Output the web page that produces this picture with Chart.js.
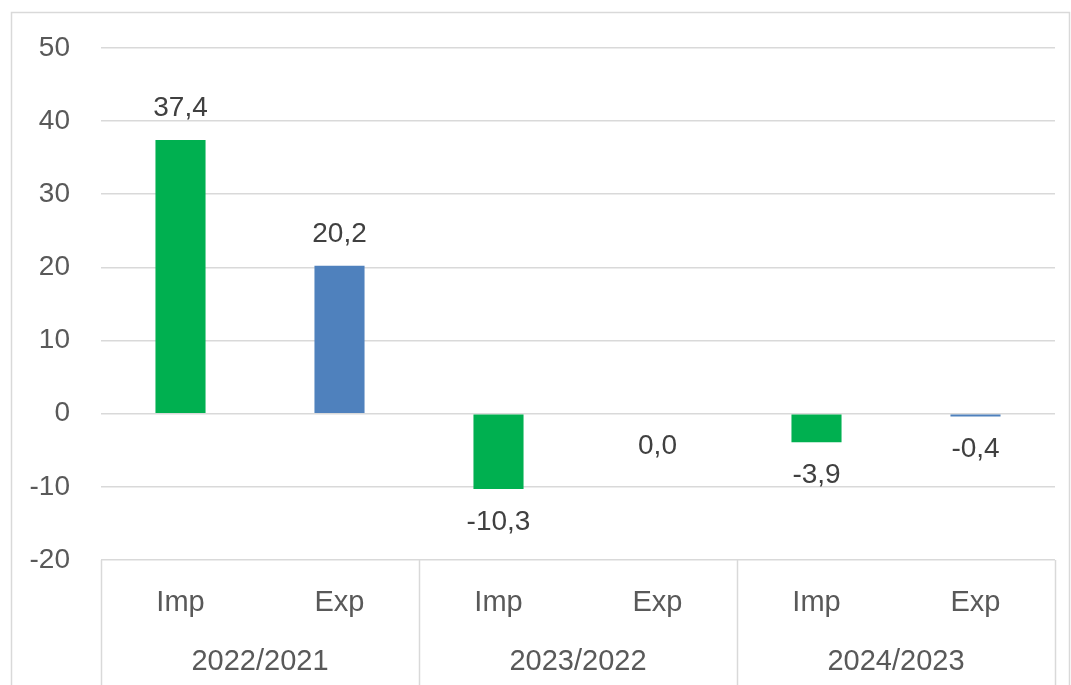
<!DOCTYPE html>
<html>
<head>
<meta charset="utf-8">
<script src="https://cdn.jsdelivr.net/npm/chart.js@4.4.1/dist/chart.umd.min.js"></script>
<style>
    html, body { margin: 0; padding: 0; background: #ffffff; }
    #wrap { width: 1071px; height: 685px; }
</style>
</head>
<body>
<div id="wrap"><canvas id="myChart" width="1071" height="685"></canvas></div>
<script>
// Dữ liệu biểu đồ
const flows = ['Imp', 'Exp', 'Imp', 'Exp', 'Imp', 'Exp'];
const periods = ['2022/2021', '2023/2022', '2024/2023'];
const changes = [37.4, 20.2, -10.3, 0.0, -3.9, -0.4];
const yTicks = [50, 40, 30, 20, 10, 0, -10, -20];

const GREEN = '#00B050';
const BLUE = '#4F81BD';
const GRID = '#d9d9d9';
const FONT = "'Liberation Sans', Arial, sans-serif";

// Vẽ nhãn giá trị trên/dưới cột
const valueLabels = {
    id: 'valueLabels',
    afterDatasetsDraw(chart) {
        const c = chart.ctx;
        const meta = chart.getDatasetMeta(0);
        c.save();
        c.font = `28px ${FONT}`;
        c.fillStyle = '#404040';
        c.textAlign = 'center';
        c.textBaseline = 'middle';
        meta.data.forEach((bar, i) => {
            const v = changes[i];
            const text = v.toFixed(1).replace('.', ',');
            const y = v > 0 ? bar.y - 32 : Math.max(bar.y, bar.base) + 33;
            c.fillText(text, bar.x, y);
        });
        c.restore();
    }
};

// Khung ngoài và đường phân cách nhóm năm
const frame = {
    id: 'frame',
    beforeDraw(chart) {
        const c = chart.ctx;
        c.save();
        c.strokeStyle = GRID;
        c.lineWidth = 1.5;
        c.strokeRect(11.5, 12.5, 1058, 700);
        c.restore();
    },
    afterDraw(chart) {
        const c = chart.ctx;
        const x = chart.scales.x;
        const area = chart.chartArea;
        c.save();
        c.strokeStyle = GRID;
        c.lineWidth = 1.5;
        for (let i = 0; i <= periods.length; i++) {
            const px = Math.round(x.left + i * x.width / periods.length) + 0.5;
            c.beginPath();
            c.moveTo(px, area.bottom);
            c.lineTo(px, chart.height);
            c.stroke();
        }
        c.restore();
    }
};

const ctx = document.getElementById('myChart').getContext('2d');
const myChart = new Chart(ctx, {
    type: 'bar',
    data: {
        labels: flows,
        datasets: [{
            data: changes,
            backgroundColor: flows.map(f => f === 'Imp' ? GREEN : BLUE),
            borderWidth: 0,
            categoryPercentage: 1,
            barPercentage: 0.315
        }]
    },
    options: {
        responsive: false,
        animation: false,
        layout: { padding: { top: 44, right: 16, left: 0, bottom: 0 } },
        plugins: {
            legend: { display: false },
            tooltip: { enabled: false }
        },
        scales: {
            y: {
                min: -20,
                max: 50,
                afterFit(scale) { scale.width = 101; },
                afterBuildTicks(scale) { scale.ticks = yTicks.map(v => ({ value: v })); },
                border: { display: false },
                grid: { color: GRID, lineWidth: 1.5, drawTicks: false },
                ticks: {
                    color: '#595959',
                    padding: 31,
                    font: { family: FONT, size: 28 },
                    callback: v => String(v)
                }
            },
            x: {
                position: 'bottom',
                afterFit(scale) { scale.height = 70; },
                border: { display: false },
                grid: { display: false },
                ticks: {
                    color: '#595959',
                    padding: 18,
                    maxRotation: 0,
                    font: { family: FONT, size: 29 }
                }
            },
            x2: {
                type: 'category',
                position: 'bottom',
                labels: periods,
                offset: true,
                afterFit(scale) { scale.height = 55; },
                border: { display: false },
                grid: { display: false },
                ticks: {
                    color: '#595959',
                    padding: 7,
                    maxRotation: 0,
                    font: { family: FONT, size: 29 }
                }
            }
        }
    },
    plugins: [valueLabels, frame]
});
</script>
</body>
</html>
